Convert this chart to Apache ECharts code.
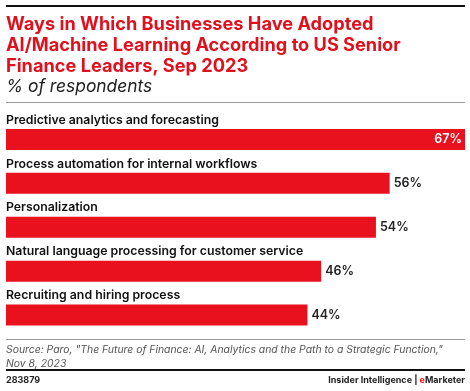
<!DOCTYPE html>
<html>
<head>
<meta charset="utf-8">
<script src="https://cdn.jsdelivr.net/npm/echarts@6/dist/echarts.min.js"></script>
<style>
html,body{margin:0;padding:0;background:#fff;}
#c{width:470px;height:391px;}
</style>
</head>
<body>
<div id="c"></div>
<script>
const categories = [
  "Predictive analytics and forecasting",
  "Process automation for internal workflows",
  "Personalization",
  "Natural language processing for customer service",
  "Recruiting and hiring process"
];
const values = [67, 56, 54, 46, 44];
const titleLines = "Ways in Which Businesses Have Adopted\nAI/Machine Learning According to US Senior\nFinance Leaders, Sep 2023";
const subtitle = "% of respondents";
const sourceText = "Source: Paro, \"The Future of Finance: AI, Analytics and the Path to a Strategic Function,\"\nNov 8, 2023";
const chartId = "283879";

const RED = "#e8111d";
const FONT = "Inter, 'Liberation Sans', sans-serif";

const chart = echarts.init(document.getElementById('c'), null, {renderer: 'canvas'});

const maxVal = Math.max(...values);

chart.setOption({
  animation: false,
  backgroundColor: '#fff',
  grid: {left: 6, right: 5, top: 117.5, height: 219.5, containLabel: false},
  xAxis: {type: 'value', min: 0, max: maxVal, show: false},
  yAxis: {type: 'category', data: categories, inverse: true, show: false},
  series: [
    {
      type: 'bar',
      data: values.map(v => ({
        value: v,
        label: v === maxVal
          ? {position: 'insideRight', color: '#fff', distance: 3}
          : {position: 'right', color: '#222', distance: 4}
      })),
      barWidth: 21,
      itemStyle: {color: RED},
      label: {
        show: true,
        formatter: '{c}%',
        fontFamily: FONT,
        fontSize: 12.5,
        fontWeight: 600
      },
      z: 2
    },
    {
      type: 'bar',
      data: values.map(() => maxVal),
      barWidth: 21,
      barGap: '-100%',
      itemStyle: {color: 'rgba(0,0,0,0)'},
      silent: true,
      label: {
        show: true,
        position: [0, -3],
        verticalAlign: 'bottom',
        align: 'left',
        formatter: p => categories[p.dataIndex],
        fontFamily: FONT,
        fontSize: 12.3,
        fontWeight: 600,
        color: '#111'
      },
      z: 1
    }
  ],
  graphic: [
    {type: 'rect', shape: {x: 6, y: 5, width: 459, height: 2}, style: {fill: '#111'}},
    {type: 'text', left: 6, top: 14, style: {text: titleLines, font: `bold 18.2px ${FONT}`, fill: '#e0101d', lineHeight: 21}},
    {type: 'text', left: 6, top: 78, style: {text: subtitle, font: `italic 17.4px ${FONT}`, fill: '#222'}},
    {type: 'rect', shape: {x: 6, y: 102, width: 459, height: 1}, style: {fill: '#999'}},
    {type: 'rect', shape: {x: 6, y: 339, width: 459, height: 1}, style: {fill: '#999'}},
    {type: 'text', left: 6, top: 343, style: {text: sourceText, font: `italic 10.4px ${FONT}`, fill: '#555', lineHeight: 14}},
    {type: 'rect', shape: {x: 6, y: 369, width: 459, height: 2}, style: {fill: '#111'}},
    {type: 'text', left: 6, top: 376, style: {text: chartId, font: `bold 9px ${FONT}`, fill: '#222'}},
    {type: 'text', right: 5, top: 376, style: {
      text: '{a|Insider Intelligence | }{b|e}{a|Marketer}',
      rich: {
        a: {font: `bold 9px ${FONT}`, fill: '#222'},
        b: {font: `bold 9px ${FONT}`, fill: RED}
      }
    }}
  ]
});
</script>
</body>
</html>
